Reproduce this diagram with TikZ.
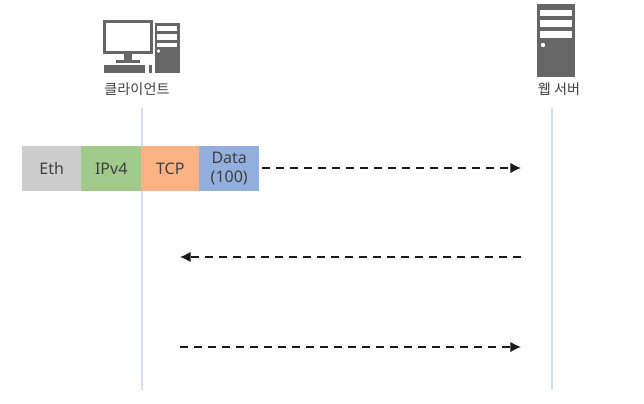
\documentclass[tikz,border=0pt]{standalone}
\usepackage{fontspec}
\setmainfont{Noto Sans}
\newfontfamily\krfont{Noto Sans CJK KR}
\usetikzlibrary{arrows.meta}
\definecolor{icon}{HTML}{666666}
\definecolor{life}{HTML}{CFE2EC}
\definecolor{txt}{HTML}{404040}
\tikzset{
  hdr/.style={rectangle,inner sep=0pt,minimum height=33.75pt,anchor=west,text=txt,font=\fontsize{12pt}{14pt}\selectfont,align=center},
  lifeline/.style={draw=life,line width=0.8pt},
  msg/.style={draw=black!90,line width=1.3pt,dash pattern=on 6pt off 4.5pt,-{Latex[length=8pt,width=8pt]}},
  iconbody/.style={fill=icon,draw=none},
  iconhole/.style={fill=white,draw=none},
  caption/.style={font=\krfont\fontsize{10.6pt}{12pt}\selectfont,text=txt,inner sep=0pt}
}
\begin{document}
\begin{tikzpicture}[x=0.75pt,y=-0.75pt]
\useasboundingbox (0,0) rectangle (644,404);
\fill[white] (0,0) rectangle (644,404);
% lifelines
\coordinate (ca) at (142,108); \coordinate (cb) at (142,390);
\coordinate (sa) at (552,108); \coordinate (sb) at (552,390);
\draw[lifeline] (ca) -- (cb);
\draw[lifeline] (sa) -- (sb);
% header
\node[hdr,fill={rgb,255:red,205;green,205;blue,205},minimum width=44.25pt] (eth) at (22,168.5) {Eth};
\node[hdr,fill={rgb,255:red,160;green,203;blue,138},minimum width=45pt] (ip) at (81,168.5) {IPv4};
\node[hdr,fill={rgb,255:red,252;green,178;blue,132},minimum width=43.5pt] (tcp) at (141,168.5) {TCP};
\node[hdr,fill={rgb,255:red,146;green,175;blue,221},minimum width=45pt] (data) at (199,168.5) {Data\\(100)};
% client icon
\fill[iconbody] (103,20) rectangle (153,54);
\fill[iconhole] (106,23) rectangle (150,51);
\fill[iconbody] (124,54) rectangle (132,60);
\fill[iconbody] (116,60) rectangle (140,63);
\fill[iconbody] (104,65) rectangle (145,73);
\fill[iconbody] (149,65) rectangle (152,73);
\fill[iconbody] (155,23) rectangle (180,73);
\fill[iconhole] (157,26) rectangle (177,31);
\fill[iconhole] (157,34) rectangle (177,40);
\fill[iconhole] (157,43) rectangle (177,47);
\fill[iconhole] (158.5,51) circle (1.8);
\node[caption] (client) at (137,89) {클라이언트};
% server icon
\fill[iconbody] (537,4) rectangle (575,77);
\fill[iconhole] (540,10) rectangle (572,16);
\fill[iconhole] (540,20) rectangle (572,27);
\fill[iconhole] (540,31) rectangle (572,38);
\fill[iconhole] (543,45) circle (2.2);
\node[caption] (server) at (559,89) {웹 서버};
% messages
\coordinate (m1a) at (262,168); \coordinate (m1b) at (521,168);
\coordinate (m2a) at (521,257); \coordinate (m2b) at (180,257);
\coordinate (m3a) at (180,347); \coordinate (m3b) at (521,347);
\draw[msg] (m1a) -- (m1b);
\draw[msg] (m2a) -- (m2b);
\draw[msg] (m3a) -- (m3b);
\end{tikzpicture}
\end{document}
